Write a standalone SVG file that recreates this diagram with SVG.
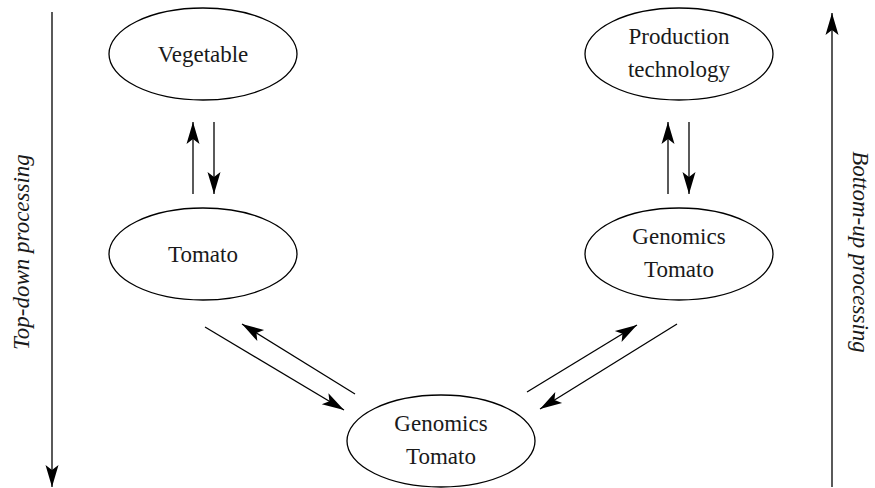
<svg xmlns="http://www.w3.org/2000/svg" width="875" height="488" viewBox="0 0 875 488">
<style>
.n ellipse{fill:#fff;stroke:#000;stroke-width:1.3}
.n text,.lab{font-family:"Liberation Serif","DejaVu Serif",serif;font-size:23px;fill:#1a1a1a;text-anchor:middle}
.lab{font-style:italic}
#connectors line{stroke:#000;stroke-width:1.3;marker-end:url(#ah)}
</style>
<defs>
<marker id="ah" viewBox="-24 -8 26 16" markerWidth="26" markerHeight="16" refX="0" refY="0" orient="auto" markerUnits="userSpaceOnUse">
<path d="M0,0 L-22,-6.5 L-17,0 L-22,6.5 Z" fill="#000"/>
</marker>
</defs>
<rect width="875" height="488" fill="#fff"/>
<g id="vegetable" class="n"><ellipse cx="203" cy="54" rx="94" ry="46"/><text x="203" y="62">Vegetable</text></g>
<g id="production" class="n"><ellipse cx="679" cy="54" rx="94" ry="46"/><text x="679" y="44">Production</text><text x="679" y="77">technology</text></g>
<g id="tomato" class="n"><ellipse cx="203" cy="254" rx="94" ry="46"/><text x="203" y="262">Tomato</text></g>
<g id="genomics-right" class="n"><ellipse cx="679" cy="254" rx="94" ry="46"/><text x="679" y="244">Genomics</text><text x="679" y="277">Tomato</text></g>
<g id="genomics-bottom" class="n"><ellipse cx="441" cy="441" rx="94" ry="46"/><text x="441" y="431">Genomics</text><text x="441" y="464">Tomato</text></g>
<g id="connectors">
<line x1="193" y1="194" x2="193" y2="122"/>
<line x1="214" y1="122" x2="214" y2="194"/>
<line x1="668" y1="194" x2="668" y2="122"/>
<line x1="689" y1="122" x2="689" y2="194"/>
<line x1="205" y1="327" x2="344" y2="410"/>
<line x1="355" y1="394" x2="242" y2="324"/>
<line x1="527" y1="392" x2="637" y2="325"/>
<line x1="677" y1="324" x2="540" y2="409"/>
<line x1="52" y1="12" x2="52" y2="487"/>
<line x1="832" y1="487" x2="832" y2="13"/>
</g>
<text class="lab" transform="translate(29,252) rotate(-90)">Top-down processing</text>
<text class="lab" transform="translate(853,252) rotate(90)">Bottom-up processing</text>
</svg>
